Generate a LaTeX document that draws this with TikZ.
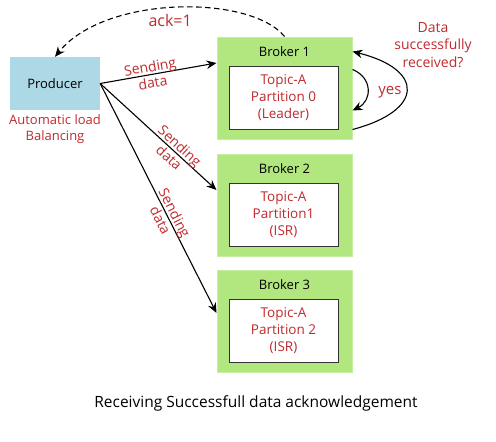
\documentclass[tikz,border=0pt]{standalone}
\usepackage{fontspec}
\setmainfont{Open Sans}
\usetikzlibrary{positioning, arrows.meta, calc}

\definecolor{brokergreen}{RGB}{178,230,126}
\definecolor{brokeredge}{RGB}{198,238,160}
\definecolor{prodblue}{RGB}{173,216,230}
\definecolor{labelred}{RGB}{190,42,46}

\tikzset{
  broker/.style={rectangle, fill=brokergreen, draw=brokeredge, line width=1pt,
    minimum width=135pt, minimum height=102pt},
  topic/.style={rectangle, fill=white, draw=black!80, line width=0.8pt,
    minimum width=109pt, minimum height=63pt, align=center, text=labelred,
    font=\fontsize{13.5}{17}\selectfont},
  brokertitle/.style={font=\fontsize{13}{17}\selectfont, inner sep=0pt},
  producer/.style={rectangle, fill=prodblue, minimum width=90pt, minimum height=53pt,
    font=\fontsize{13}{17}\selectfont},
  redlabel/.style={text=labelred, align=center, font=\fontsize{14}{17.5}\selectfont},
  sendlabel/.style={redlabel, sloped, font=\fontsize{14}{16}\selectfont},
  arrow/.style={line width=1.1pt, -{Stealth[length=10pt, width=8.5pt]}},
}

\begin{document}
\begin{tikzpicture}[x=1pt, y=-1pt]
  \useasboundingbox (0,0) rectangle (496,442);

  % Nodes
  \node[producer] (prod) at (55,83.5) {Producer};
  \node[redlabel, font=\fontsize{13}{16}\selectfont, below=1pt of prod] (balance) {Automatic load\\Balancing};
  \foreach \i/\y/\part/\role in {1/88/Partition 0/(Leader), 2/205/Partition1/(ISR), 3/321/Partition 2/(ISR)}
  {
    \node[broker] (b\i) at (284.5,\y) {};
    \node[brokertitle] (bt\i) at ($(b\i.north)+(0,15)$) {Broker \i};
    \node[topic] (t\i) at ($(b\i.center)+(-1,10)$) {Topic-A\\\part\\\role};
  }
  \node[redlabel] (question) at (433,45) {Data\\successfully\\received?};
  \node[redlabel, font=\fontsize{15}{17}\selectfont] (yes) at (390,92) {yes};
  \node[font=\fontsize{15.5}{18}\selectfont] (caption) at (256,403) {Receiving Successfull data acknowledgement};

  % Arrows
  \draw[arrow] (prod.east) -- node[sendlabel, pos=0.44] {Sending\\data} ([yshift=25pt]b1.west);
  \draw[arrow] (prod.east) -- node[sendlabel, pos=0.64] {Sending\\data} ([yshift=15pt]b2.west);
  \draw[arrow] (prod.east) -- node[sendlabel, pos=0.58] {Sending\\data} ([yshift=8pt]b3.west);
  \draw[arrow, dash pattern=on 5.5pt off 3.5pt] (b1.north) .. controls +(-34,-42) and +(50,-62) .. node[redlabel, font=\fontsize{16}{18}\selectfont, below=2.5pt, pos=0.52] (ack) {ack=1} (prod.north);
  \draw[arrow] ([yshift=10pt]b1.south east) .. controls +(72,-19) and +(72,18) .. ([yshift=-15pt]b1.north east);
  \draw[arrow] ([yshift=-33pt]b1.north east) .. controls +(20,8) and +(20,-10) .. ([yshift=29pt]b1.south east);
\end{tikzpicture}
\end{document}
